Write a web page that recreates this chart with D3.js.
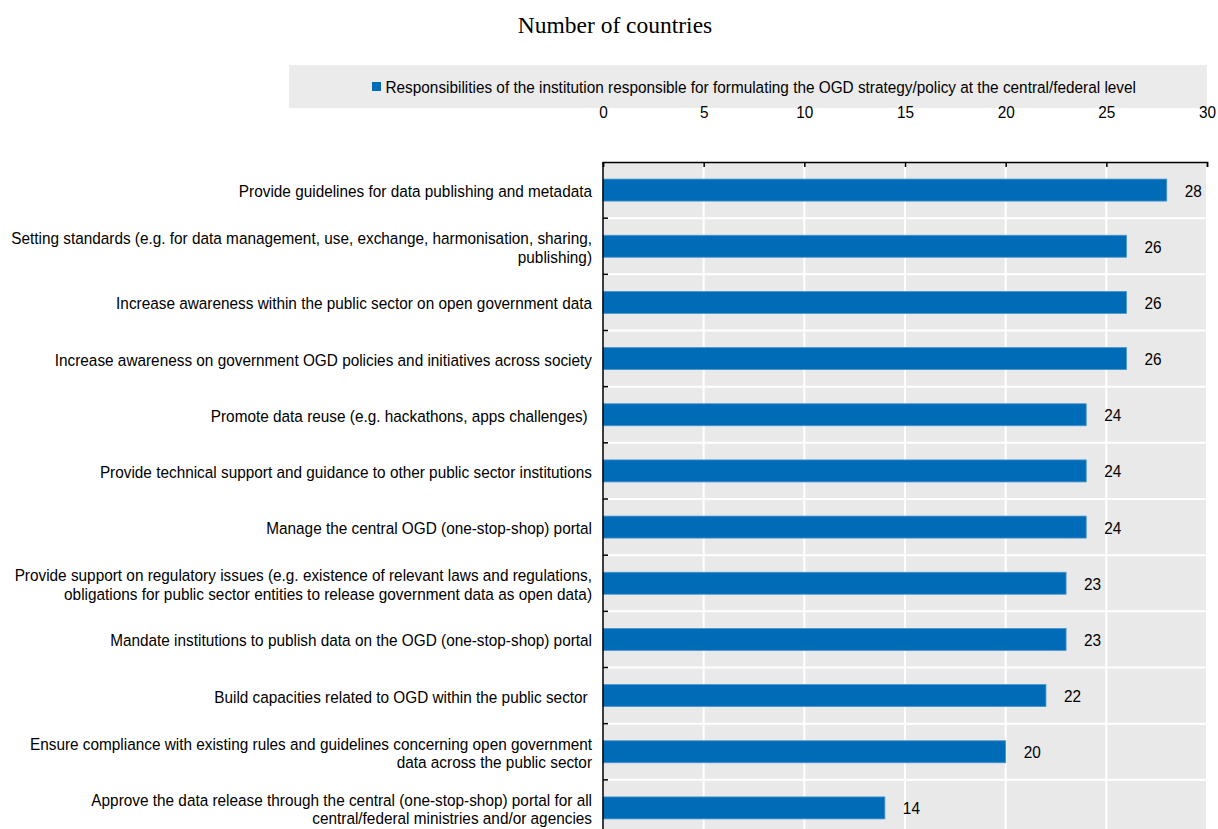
<!DOCTYPE html>
<html>
<head>
<meta charset="utf-8">
<script src="https://cdn.jsdelivr.net/npm/d3@7"></script>
<style>
  html, body { margin: 0; padding: 0; background: #fff; }
  svg { display: block; }
  text { white-space: pre; }
</style>
</head>
<body>
<div id="chart"></div>
<script>
// Responsibilities of the central OGD institution, number of countries
const categories = [
  "Provide guidelines for data publishing and metadata",
  "Setting standards (e.g. for data management, use, exchange, harmonisation, sharing,\npublishing)",
  "Increase awareness within the public sector on open government data",
  "Increase awareness on government OGD policies and initiatives across society",
  "Promote data reuse (e.g. hackathons, apps challenges) ",
  "Provide technical support and guidance to other public sector institutions",
  "Manage the central OGD (one-stop-shop) portal",
  "Provide support on regulatory issues (e.g. existence of relevant laws and regulations,\nobligations for public sector entities to release government data as open data)",
  "Mandate institutions to publish data on the OGD (one-stop-shop) portal",
  "Build capacities related to OGD within the public sector ",
  "Ensure compliance with existing rules and guidelines concerning open government\ndata across the public sector",
  "Approve the data release through the central (one-stop-shop) portal for all\ncentral/federal ministries and/or agencies"
];
const values = [28, 26, 26, 26, 24, 24, 24, 23, 23, 22, 20, 14];
const xTicks = [0, 5, 10, 15, 20, 25, 30];
const seriesName = "Responsibilities of the institution responsible for formulating the OGD strategy/policy at the central/federal level";
const title = "Number of countries";

const W = 1218, H = 829;
const sans = "'Liberation Sans', Arial, sans-serif";
const fs = 17;          // label font size
const squeeze = 0.903;  // horizontal condensing for the narrow label face
const blue = "#006bb6";

const svg = d3.select("#chart").append("svg")
  .attr("width", W).attr("height", H);

const plot = { left: 603, right: 1207, top: 162, bottom: 836 };

const x = d3.scaleLinear().domain([0, 30]).range([plot.left, plot.right]);
const y = d3.scaleBand().domain(d3.range(categories.length))
  .range([plot.top, plot.bottom]).paddingInner(0).paddingOuter(0);

// condensed text placed at (tx, ty)
function narrowText(parent, tx, ty, str, anchor) {
  return parent.append("text")
    .attr("transform", `translate(${tx},${ty}) scale(${squeeze},1)`)
    .attr("text-anchor", anchor || "start")
    .attr("font-family", sans).attr("font-size", fs)
    .attr("fill", "#000")
    .text(str);
}

// Title
svg.append("text")
  .attr("x", 615).attr("y", 33)
  .attr("text-anchor", "middle")
  .attr("font-family", "'Liberation Serif', 'Times New Roman', serif")
  .attr("font-size", 23.5)
  .attr("fill", "#000")
  .text(title);

// Legend box
svg.append("rect")
  .attr("x", 289).attr("y", 65).attr("width", 918).attr("height", 43)
  .attr("fill", "#ebebeb");
const legend = svg.append("g");
legend.append("rect")
  .attr("x", 372).attr("y", 82).attr("width", 9).attr("height", 9)
  .attr("fill", blue);
narrowText(legend, 385.5, 93, seriesName);

// Plot background
svg.append("rect")
  .attr("x", plot.left).attr("y", plot.top)
  .attr("width", plot.right - plot.left).attr("height", plot.bottom - plot.top)
  .attr("fill", "#e9e9e9");

// Vertical gridlines
svg.append("g").selectAll("line")
  .data(xTicks.slice(1))
  .join("line")
  .attr("x1", d => x(d)).attr("x2", d => x(d))
  .attr("y1", plot.top).attr("y2", plot.bottom)
  .attr("stroke", "#fff").attr("stroke-width", 2);

// Horizontal separators between categories
svg.append("g").selectAll("line")
  .data(d3.range(1, categories.length))
  .join("line")
  .attr("x1", plot.left).attr("x2", plot.right)
  .attr("y1", d => y(d)).attr("y2", d => y(d))
  .attr("stroke", "#fff").attr("stroke-width", 2);

// Bars
const barH = 22;
svg.append("g").selectAll("rect")
  .data(values)
  .join("rect")
  .attr("x", x(0))
  .attr("y", (d, i) => y(i) + y.bandwidth() / 2 - barH / 2)
  .attr("width", d => x(d) - x(0))
  .attr("height", barH)
  .attr("fill", blue)
  .attr("stroke", "#4a95cf").attr("stroke-width", 0.8);

// Value labels
const valG = svg.append("g");
values.forEach((v, i) => {
  narrowText(valG, x(v) + 18, y(i) + y.bandwidth() / 2 + 6.5, String(v));
});

// Top axis
const xAxis = d3.axisTop(x).tickValues(xTicks).tickSize(-5);
const gx = svg.append("g")
  .attr("transform", `translate(0,${plot.top})`)
  .call(xAxis);
gx.select(".domain").attr("stroke", "#000").attr("stroke-width", 1.5);
gx.selectAll(".tick line").attr("stroke", "#000").attr("stroke-width", 1.5);
gx.selectAll(".tick text")
  .attr("font-family", sans).attr("font-size", fs).attr("fill", "#000")
  .attr("y", 0).attr("dy", null)
  .attr("transform", `translate(0,${118 - plot.top}) scale(${squeeze},1)`);

// Left axis: line with inward ticks at category boundaries
svg.append("line")
  .attr("x1", plot.left).attr("x2", plot.left)
  .attr("y1", plot.top).attr("y2", plot.bottom)
  .attr("stroke", "#000").attr("stroke-width", 1.5);
svg.append("g").selectAll("line")
  .data(d3.range(1, categories.length))
  .join("line")
  .attr("x1", plot.left).attr("x2", plot.left + 5)
  .attr("y1", d => y(d)).attr("y2", d => y(d))
  .attr("stroke", "#000").attr("stroke-width", 1.5);

// Category labels
const lineH = 18.5;
const catG = svg.append("g");
categories.forEach((c, i) => {
  const lines = c.split("\n");
  const cy = y(i) + y.bandwidth() / 2;
  lines.forEach((ln, k) => {
    narrowText(catG, plot.left - 11, cy + 7 + (k - (lines.length - 1) / 2) * lineH, ln, "end");
  });
});
</script>
</body>
</html>
